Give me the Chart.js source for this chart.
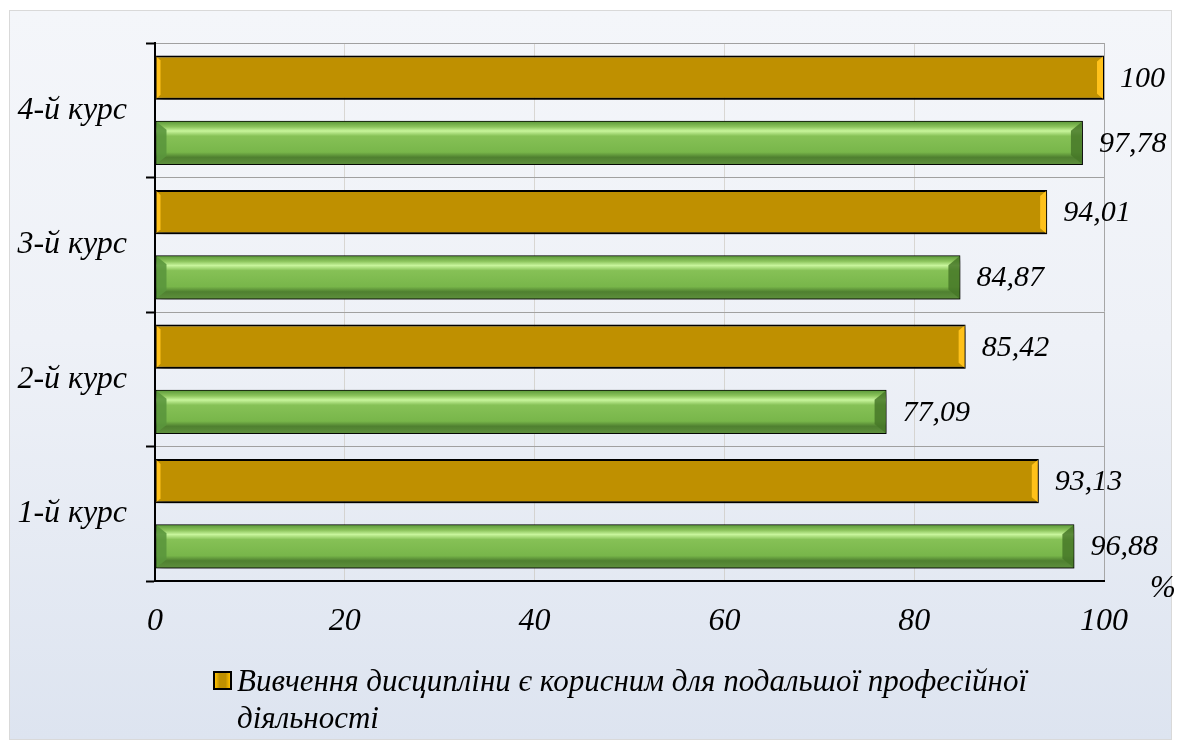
<!DOCTYPE html>
<html>
<head>
<meta charset="utf-8">
<script src="https://cdn.jsdelivr.net/npm/chart.js@4.4.0/dist/chart.umd.min.js"></script>
<style>
  html, body { margin: 0; padding: 0; background: #fff; }
  .wrap { position: relative; width: 1182px; height: 749px; overflow: hidden; }
  .bg {
    position: absolute; left: 9px; top: 10px; width: 1161px; height: 728px;
    border: 1px solid #d9d9d9;
    background: linear-gradient(to bottom, #f4f6fa 0%, #eef1f7 45%, #dde4f0 100%);
  }
  #myChart { position: absolute; left: 0; top: 0; }
  .legend {
    position: absolute; left: 213px; top: 662px; width: 860px;
    font: italic 31px "Liberation Serif", "Times New Roman", serif;
    line-height: 37px; color: #000;
  }
  .legend .box {
    position: absolute; left: 0; top: 9px; width: 15px; height: 15px;
    border: 2px solid #000; background: linear-gradient(to right, #ffc000, #bf9000 30%, #bf9000 70%, #ffc000);
  }
  .legend .txt { margin-left: 24px; }
</style>
</head>
<body>
<div class="wrap">
  <div class="bg"></div>
  <canvas id="myChart" width="1182" height="749"></canvas>
  <div class="legend"><span class="box"></span><div class="txt"></div></div>
</div>
<script>
const categories = ["4-й курс", "3-й курс", "2-й курс", "1-й курс"];
const usefulValues = [100, 94.01, 85.42, 93.13];
const greenValues = [97.78, 84.87, 77.09, 96.88];
const xTicks = [0, 20, 40, 60, 80, 100];
const legendLabel = "Вивчення дисципліни є корисним для подальшої професійної діяльності";
const unitLabel = "%";

const font = "'Liberation Serif', 'Times New Roman', serif";

function fmt(v) {
  return String(v).replace(".", ",");
}

// shadow + bevel + value labels
const barLook = {
  id: "barLook",
  beforeDatasetsDraw(chart) {
    const ctx = chart.ctx;
    ctx.save();
    ctx.shadowColor = "rgba(0,0,0,0.55)";
    ctx.shadowBlur = 6;
    ctx.shadowOffsetX = 3;
    ctx.shadowOffsetY = 4;
  },
  afterDatasetsDraw(chart) {
    const ctx = chart.ctx;
    ctx.restore();
    chart.data.datasets.forEach((ds, di) => {
      const meta = chart.getDatasetMeta(di);
      meta.data.forEach((el, i) => {
        const p = el.getProps(["x", "y", "base", "height"], true);
        const l = p.base + 1, r = p.x - 1;
        const t = p.y - p.height / 2 + 1, b = p.y + p.height / 2 - 1;
        const h = b - t;
        ctx.save();
        if (di === 1) {
          const g = ctx.createLinearGradient(0, t, 0, b);
          g.addColorStop(0, "#5f9c3c");
          g.addColorStop(0.12, "#8cc45c");
          g.addColorStop(0.22, "#c8f59c");
          g.addColorStop(0.34, "#86c156");
          g.addColorStop(0.72, "#78b64a");
          g.addColorStop(0.84, "#4f8030");
          g.addColorStop(1, "#5d8f3c");
          ctx.fillStyle = g;
          ctx.fillRect(l, t, r - l, h);
          // left bevel
          ctx.fillStyle = "rgba(90,150,60,0.9)";
          ctx.beginPath();
          ctx.moveTo(l, t); ctx.lineTo(l + 10, t + 8); ctx.lineTo(l + 10, b - 8); ctx.lineTo(l, b);
          ctx.closePath(); ctx.fill();
          // right bevel
          ctx.fillStyle = "rgba(70,120,40,0.85)";
          ctx.beginPath();
          ctx.moveTo(r, t); ctx.lineTo(r - 11, t + 9); ctx.lineTo(r - 11, b - 9); ctx.lineTo(r, b);
          ctx.closePath(); ctx.fill();
        } else {
          ctx.fillStyle = "#ffc11a";
          ctx.beginPath();
          ctx.moveTo(l, t); ctx.lineTo(l + 4, t + 4); ctx.lineTo(l + 4, b - 4); ctx.lineTo(l, b);
          ctx.closePath(); ctx.fill();
          ctx.beginPath();
          ctx.moveTo(r, t); ctx.lineTo(r - 6, t + 5); ctx.lineTo(r - 6, b - 5); ctx.lineTo(r, b);
          ctx.closePath(); ctx.fill();
        }
        ctx.restore();
        // value label
        ctx.save();
        ctx.font = "italic 30px " + font;
        ctx.fillStyle = "#000";
        ctx.textAlign = "left";
        ctx.textBaseline = "middle";
        ctx.fillText(fmt(ds.data[i]), p.x + 16, p.y + 1);
        ctx.restore();
      });
    });
    // unit
    const ca = chart.chartArea;
    ctx.save();
    ctx.font = "italic 31px " + font;
    ctx.fillStyle = "#000";
    ctx.textAlign = "center";
    ctx.textBaseline = "middle";
    ctx.fillText(unitLabel, ca.right + 59, ca.bottom + 8);
    ctx.restore();
  }
};

const config = {
  type: "bar",
  data: {
    labels: categories,
    datasets: [
      {
        label: legendLabel,
        data: usefulValues,
        backgroundColor: "#bf9000",
        borderColor: "#000",
        borderWidth: 2,
        borderSkipped: false,
        categoryPercentage: 0.97,
        barPercentage: 0.68,
      },
      {
        label: "",
        data: greenValues,
        backgroundColor: "#78b64a",
        borderColor: "#000",
        borderWidth: 2,
        borderSkipped: false,
        categoryPercentage: 0.97,
        barPercentage: 0.68,
      },
    ],
  },
  options: {
    indexAxis: "y",
    responsive: false,
    animation: false,
    devicePixelRatio: 1,
    layout: { padding: { top: 43, right: 78, left: 0, bottom: 0 } },
    plugins: {
      legend: { display: false },
      tooltip: { enabled: false },
    },
    scales: {
      x: {
        min: 0,
        max: 100,
        afterFit(scale) { scale.height = 168; },
        afterBuildTicks(scale) { scale.ticks = xTicks.map((v) => ({ value: v })); },
        grid: {
          color: (c) => (c.tick && c.tick.value === 100 ? "#a6a6a6" : "rgba(200,195,185,0.6)"),
          lineWidth: 1,
          drawTicks: false,
        },
        border: { color: "#000", width: 2 },
        ticks: {
          padding: 21,
          color: "#000",
          font: { family: font, size: 32, style: "italic" },
        },
      },
      y: {
        afterFit(scale) { scale.width = 155; },
        grid: {
          offset: true,
          color: "#a0a0a0",
          tickColor: "#000",
          tickLength: 9,
          lineWidth: 1,
          tickWidth: 2,
        },
        border: { color: "#000", width: 2 },
        ticks: {
          padding: 19,
          color: "#000",
          font: { family: font, size: 32, style: "italic" },
        },
      },
    },
  },
  plugins: [barLook],
};

const myChart = new Chart(document.getElementById("myChart"), config);

document.querySelector(".legend .txt").textContent = config.data.datasets[0].label;
</script>
</body>
</html>
